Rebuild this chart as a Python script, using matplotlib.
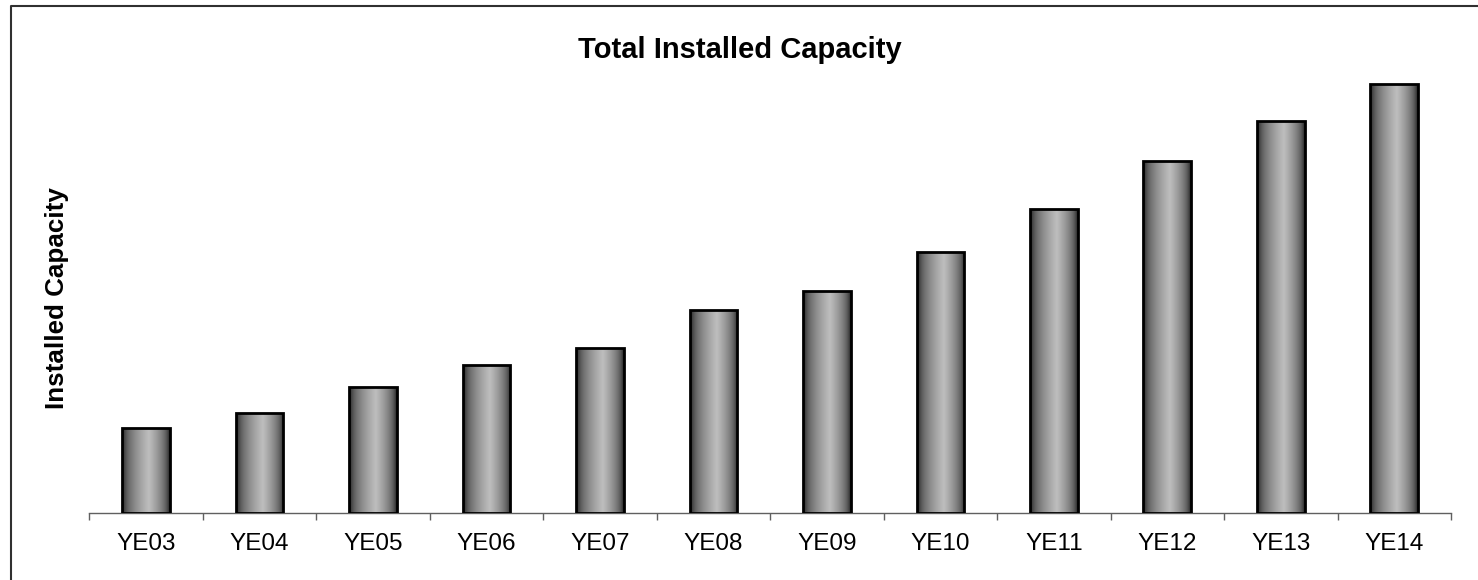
import numpy as np
import matplotlib
matplotlib.use('Agg')
import matplotlib.pyplot as plt
from matplotlib.colors import LinearSegmentedColormap
from matplotlib.lines import Line2D

plt.rcParams['font.family'] = ['Liberation Sans', 'DejaVu Sans']

years = ['YE03', 'YE04', 'YE05', 'YE06', 'YE07', 'YE08',
         'YE09', 'YE10', 'YE11', 'YE12', 'YE13', 'YE14']
capacity = [85, 100, 126, 148, 165, 203, 222, 261, 304, 352, 392, 429]

W, H = 1478, 580
fig = plt.figure(figsize=(W / 100, H / 100), dpi=100)
ax = fig.add_axes([89.3 / W, 1 - 513 / H, (1451 - 89.3) / W, (513 - 70) / H])

x = np.arange(len(years))
bars = ax.bar(x, capacity, width=0.42, facecolor='none', edgecolor='black',
              linewidth=2.0, zorder=3)

# horizontal "cylinder" shading: dark edges, light band just right of centre
u = np.linspace(0, 1, 256)
peak = 0.56
t = np.where(u < peak, u / peak, (1 - u) / (1 - peak))
shade = (t ** 0.5)[np.newaxis, :]
cmap = LinearSegmentedColormap.from_list('bar', ['#080808', '#6a6a6a', '#bebebe'])
for b in bars:
    x0, w, h = b.get_x(), b.get_width(), b.get_height()
    im = ax.imshow(shade, cmap=cmap, vmin=0, vmax=1, aspect='auto',
                   extent=(x0, x0 + w, 0, h), zorder=2, interpolation='bilinear')
    im.set_clip_path(b)

ax.set_xlim(-0.5, len(years) - 0.5)
ax.set_ylim(0, 443)

for side in ['top', 'right', 'left']:
    ax.spines[side].set_visible(False)
ax.spines['bottom'].set_color('#606060')
ax.spines['bottom'].set_linewidth(1.0)
ax.set_yticks([])

ax.set_xticks(x)
ax.set_xticklabels(years, fontsize=17.5)
ax.tick_params(axis='x', which='major', length=0, pad=14.5)
ax.set_xticks(np.arange(-0.5, len(years)), minor=True)
ax.tick_params(axis='x', which='minor', length=5, width=1.0, color='#606060',
               direction='out')

fig.text(740 / W, 1 - 50 / H, 'Total Installed Capacity', fontsize=21,
         fontweight='bold', ha='center', va='center')
fig.text(57 / W, 1 - 298 / H, 'Installed Capacity', fontsize=18.7,
         fontweight='bold', rotation=90, ha='center', va='center')

# chart frame (only top and left edges fall inside the image)
fig.add_artist(Line2D([11 / W, 11 / W, 1.0], [0.0, 1 - 6 / H, 1 - 6 / H],
                      transform=fig.transFigure, color='#303030', linewidth=1.5))

fig.savefig('out.png', dpi=100)
